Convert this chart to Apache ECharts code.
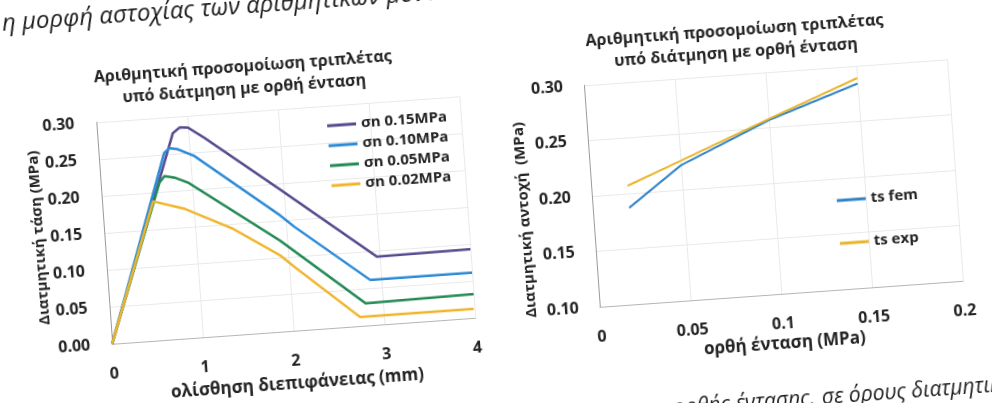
<!DOCTYPE html>
<html>
<head>
<meta charset="utf-8">
<script src="https://cdn.jsdelivr.net/npm/echarts@6/dist/echarts.min.js"></script>
<style>
  html, body { margin: 0; padding: 0; width: 992px; height: 403px; overflow: hidden; background: #fff; }
  /* the printed page sits slightly tilted */
  #page { position: absolute; left: -60px; top: -60px; width: 1112px; height: 523px;
          transform: rotate(-4.1deg); transform-origin: 50% 50%; }
</style>
</head>
<body>
<div id="page"></div>
<script>
// Shear stress (MPa) against interface slip (mm), one curve per normal stress level
const slipStress015 = [[0, 0], [0.83, 0.278], [0.91, 0.285], [1.0, 0.284], [1.17, 0.269], [1.96, 0.192], [2.97, 0.092], [4.0, 0.093]];
const slipStress010 = [[0, 0], [0.72, 0.2525], [0.78, 0.258], [0.87, 0.256], [1.05, 0.245], [1.94, 0.157], [2.09, 0.140], [2.88, 0.061], [4.0, 0.061]];
const slipStress005 = [[0, 0], [0.646, 0.213], [0.706, 0.221], [0.814, 0.218], [0.957, 0.210], [1.92, 0.123], [2.81, 0.030], [4.0, 0.032]];
const slipStress002 = [[0, 0], [0.56, 0.188], [0.90, 0.175], [1.42, 0.143], [1.91, 0.103], [2.05, 0.087], [2.74, 0.012], [3.99, 0.012]];
const curveNames = ['σn 0.15MPa', 'σn 0.10MPa', 'σn 0.05MPa', 'σn 0.02MPa'];

// Shear strength (MPa) against normal stress (MPa): numerical vs experimental
const normalStress = [0.02, 0.05, 0.10, 0.15];
const tsFem = [0.187, 0.222, 0.257, 0.284];
const tsExp = [0.207, 0.226, 0.258, 0.289];
const strengthNames = ['ts fem', 'ts exp'];

const chartTitle = 'Αριθμητική προσομοίωση τριπλέτας\nυπό διάτμηση με ορθή ένταση';
const pageTextTop = 'η μορφή αστοχίας των αριθμητικών μοντέλων';
const pageTextBottomA = 'της ορθής έντασης,';
const pageTextBottomB = 'σε όρους διατμητικής αντοχής';

const FONT = '"Open Sans", "Noto Sans", sans-serif';
const INK = '#232323';
const labelStyle = { fontFamily: FONT, fontWeight: 'bold', fontSize: 16, color: INK };
const nameStyle = { fontFamily: FONT, fontWeight: 'bold', fontSize: 15, color: INK };
const xNameStyle = { fontFamily: FONT, fontWeight: 'bold', fontSize: 17, color: INK };
const legendText = { fontFamily: FONT, fontWeight: 'bold', fontSize: 15, lineHeight: 16, color: INK };
const gridLine = { show: true, lineStyle: { color: '#e9e9e9', width: 1 } };

const chart = echarts.init(document.getElementById('page'), null, { renderer: 'canvas' });

function pairs(xs, ys) { return xs.map((x, i) => [x, ys[i]]); }

chart.setOption({
  backgroundColor: '#ffffff',
  animation: false,
  grid: [
    { left: 163, top: 154, width: 364, height: 222 },
    { left: 652, top: 152, width: 364, height: 222 }
  ],
  legend: [
    {
      data: curveNames, orient: 'vertical', left: 388, top: 161,
      icon: 'rect', itemWidth: 29, itemHeight: 3, itemGap: 4,
      textStyle: legendText
    },
    {
      data: strengthNames, orient: 'vertical', left: 891, top: 272,
      icon: 'rect', itemWidth: 29, itemHeight: 3, itemGap: 27,
      textStyle: legendText
    }
  ],
  xAxis: [
    {
      gridIndex: 0, type: 'value', min: 0, max: 4, interval: 1,
      axisLine: { lineStyle: { color: '#b5b5b5', width: 1 } },
      axisTick: { show: false }, splitLine: gridLine,
      axisLabel: Object.assign({ margin: 22 }, labelStyle),
      name: 'ολίσθηση διεπιφάνειας (mm)', nameLocation: 'middle', nameGap: 45, nameTextStyle: xNameStyle
    },
    {
      gridIndex: 1, type: 'value', min: 0, max: 0.2, interval: 0.05,
      axisLine: { lineStyle: { color: '#b5b5b5', width: 1 } },
      axisTick: { show: false }, splitLine: gridLine,
      axisLabel: Object.assign({ margin: 22 }, labelStyle),
      name: 'ορθή ένταση (MPa)', nameLocation: 'middle', nameGap: 42, nameTextStyle: xNameStyle
    }
  ],
  yAxis: [
    {
      gridIndex: 0, type: 'value', min: 0, max: 0.3, interval: 0.05,
      axisLine: { show: true, lineStyle: { color: '#9a9a9a', width: 1 } },
      axisTick: { show: false }, splitLine: gridLine,
      axisLabel: Object.assign({ margin: 22, formatter: v => v.toFixed(2) }, labelStyle),
      name: 'Διατμητική τάση (MPa)', nameLocation: 'middle', nameGap: 58, nameTextStyle: nameStyle
    },
    {
      gridIndex: 1, type: 'value', min: 0.1, max: 0.3, interval: 0.05,
      axisLine: { show: true, lineStyle: { color: '#9a9a9a', width: 1 } },
      axisTick: { show: false }, splitLine: gridLine,
      axisLabel: Object.assign({ margin: 21, formatter: v => v.toFixed(2) }, labelStyle),
      name: 'Διατμητική αντοχή  (MPa)', nameLocation: 'middle', nameGap: 61,
      nameTextStyle: Object.assign({ padding: [0, 38, 0, 0] }, nameStyle)
    }
  ],
  series: [
    { name: curveNames[0], type: 'line', xAxisIndex: 0, yAxisIndex: 0, data: slipStress015, symbol: 'none', lineStyle: { width: 2.5, color: '#574a8e' }, itemStyle: { color: '#574a8e' } },
    { name: curveNames[1], type: 'line', xAxisIndex: 0, yAxisIndex: 0, data: slipStress010, symbol: 'none', lineStyle: { width: 2.5, color: '#2d8bd6' }, itemStyle: { color: '#2d8bd6' } },
    { name: curveNames[2], type: 'line', xAxisIndex: 0, yAxisIndex: 0, data: slipStress005, symbol: 'none', lineStyle: { width: 2.5, color: '#238a55' }, itemStyle: { color: '#238a55' } },
    { name: curveNames[3], type: 'line', xAxisIndex: 0, yAxisIndex: 0, data: slipStress002, symbol: 'none', lineStyle: { width: 2.5, color: '#f1b52c' }, itemStyle: { color: '#f1b52c' } },
    { name: strengthNames[0], type: 'line', xAxisIndex: 1, yAxisIndex: 1, data: pairs(normalStress, tsFem), symbol: 'none', lineStyle: { width: 2, color: '#3183c6' }, itemStyle: { color: '#3183c6' } },
    { name: strengthNames[1], type: 'line', xAxisIndex: 1, yAxisIndex: 1, data: pairs(normalStress, tsExp), symbol: 'none', lineStyle: { width: 2, color: '#e9b42a' }, itemStyle: { color: '#e9b42a' } }
  ],
  graphic: [
    { type: 'text', x: 313, y: 98, style: { text: chartTitle, fontFamily: FONT, fontWeight: 'bold', fontSize: 16, lineHeight: 22, fill: INK, align: 'center', verticalAlign: 'top' } },
    { type: 'text', x: 806, y: 97, style: { text: chartTitle, fontFamily: FONT, fontWeight: 'bold', fontSize: 16, lineHeight: 22, fill: INK, align: 'center', verticalAlign: 'top' } },
    { type: 'text', x: 76, y: 61, style: { text: pageTextTop, fontFamily: FONT, fontStyle: 'italic', fontSize: 24, fill: '#1c1c1c', align: 'left', verticalAlign: 'bottom' } },
    { type: 'text', x: 860, y: 492, style: { text: pageTextBottomA, fontFamily: FONT, fontStyle: 'italic', fontSize: 21, fill: '#1c1c1c', align: 'right', verticalAlign: 'bottom' } },
    { type: 'text', x: 867, y: 492, style: { text: pageTextBottomB, fontFamily: FONT, fontStyle: 'italic', fontSize: 21, fill: '#1c1c1c', align: 'left', verticalAlign: 'bottom' } }
  ]
});
</script>
</body>
</html>
